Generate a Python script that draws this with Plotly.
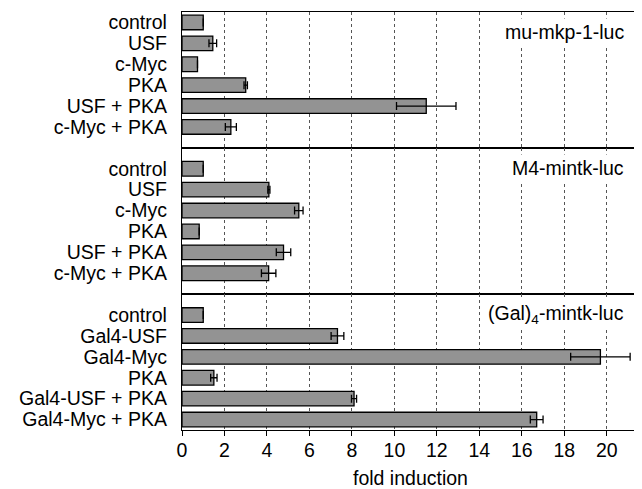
import plotly.graph_objects as go
from plotly.subplots import make_subplots

panel_names = ["mu-mkp-1-luc", "M4-mintk-luc", "(Gal)<sub>4</sub>-mintk-luc"]

categories_mkp = ["control", "USF", "c-Myc", "PKA", "USF + PKA", "c-Myc + PKA"]
values_mkp = [1.0, 1.45, 0.73, 3.0, 11.5, 2.3]
errors_mkp = [0.0, 0.18, 0.0, 0.08, 1.4, 0.26]

categories_m4 = ["control", "USF", "c-Myc", "PKA", "USF + PKA", "c-Myc + PKA"]
values_m4 = [1.0, 4.09, 5.5, 0.81, 4.78, 4.08]
errors_m4 = [0.0, 0.05, 0.2, 0.0, 0.34, 0.34]

categories_gal = ["control", "Gal4-USF", "Gal4-Myc", "PKA", "Gal4-USF + PKA", "Gal4-Myc + PKA"]
values_gal = [1.0, 7.32, 19.7, 1.5, 8.1, 16.7]
errors_gal = [0.0, 0.3, 1.4, 0.15, 0.12, 0.3]

x_ticks = list(range(0, 21, 2))
x_title = "fold induction"

panels = [
    (categories_mkp, values_mkp, errors_mkp),
    (categories_m4, values_m4, errors_m4),
    (categories_gal, values_gal, errors_gal),
]
y_ranges = [[6, -0.5], [6, -1], [5.5, -1]]

FONT = "Liberation Sans, Arial, Helvetica, sans-serif"
FS = 19.5

fig = make_subplots(rows=3, cols=1, shared_xaxes=True, vertical_spacing=0,
                    row_heights=[6.5, 7, 6.5])

for i, (cats, vals, errs) in enumerate(panels):
    r = i + 1
    fig.add_trace(go.Bar(
        y=cats, x=vals, orientation="h", width=0.7,
        marker=dict(color="#939393", line=dict(color="black", width=1.3)),
        error_x=dict(type="data", array=errs, color="black", thickness=1.3, width=4),
        showlegend=False,
    ), row=r, col=1)
    fig.update_yaxes(
        type="category", categoryorder="array", categoryarray=cats,
        tickmode="array", tickvals=cats, ticktext=cats,
        range=y_ranges[i], showline=True, linecolor="black", linewidth=1.3,
        mirror=True, ticks="", ticklabelstandoff=10, showgrid=False,
        automargin=False,
        tickfont=dict(size=FS, color="black", family=FONT), row=r, col=1)
    fig.update_xaxes(
        range=[0, 21.47], tickvals=x_ticks, showgrid=True, griddash="3px,3px",
        gridcolor="#555", gridwidth=0.7, showline=True, linecolor="black",
        linewidth=1.3, mirror=True, zeroline=False, automargin=False,
        row=r, col=1)
    ref = "x domain" if r == 1 else f"x{r} domain"
    yref = "y domain" if r == 1 else f"y{r} domain"
    fig.add_annotation(
        text=panel_names[i], xref=ref, yref=yref, x=1, y=1,
        xanchor="right", yanchor="middle", xshift=-11, yshift=-20,
        showarrow=False, bgcolor="white", borderpad=2,
        font=dict(size=FS, color="black", family=FONT))

fig.update_xaxes(ticks="", showticklabels=False, row=1, col=1)
fig.update_xaxes(ticks="", showticklabels=False, row=2, col=1)
fig.update_xaxes(ticks="outside", ticklen=5, tickcolor="black", tickwidth=1.3,
                 showticklabels=True, ticklabelstandoff=-3,
                 tickfont=dict(size=FS, color="black", family=FONT),
                 row=3, col=1)

fig.add_annotation(
    text=x_title, xref="x3 domain", yref="paper", x=0.5, y=0,
    xanchor="center", yanchor="middle", yshift=-48, showarrow=False,
    font=dict(size=FS, color="black", family=FONT))

# page body adds an 8px offset, so the figure is sized to fill the rest
fig.update_layout(
    width=634, height=481,
    margin=dict(l=174, r=4, t=4, b=59),
    plot_bgcolor="white", paper_bgcolor="white",
    bargap=0.3, font=dict(family=FONT, color="black"),
)

fig.write_html("out.html")
